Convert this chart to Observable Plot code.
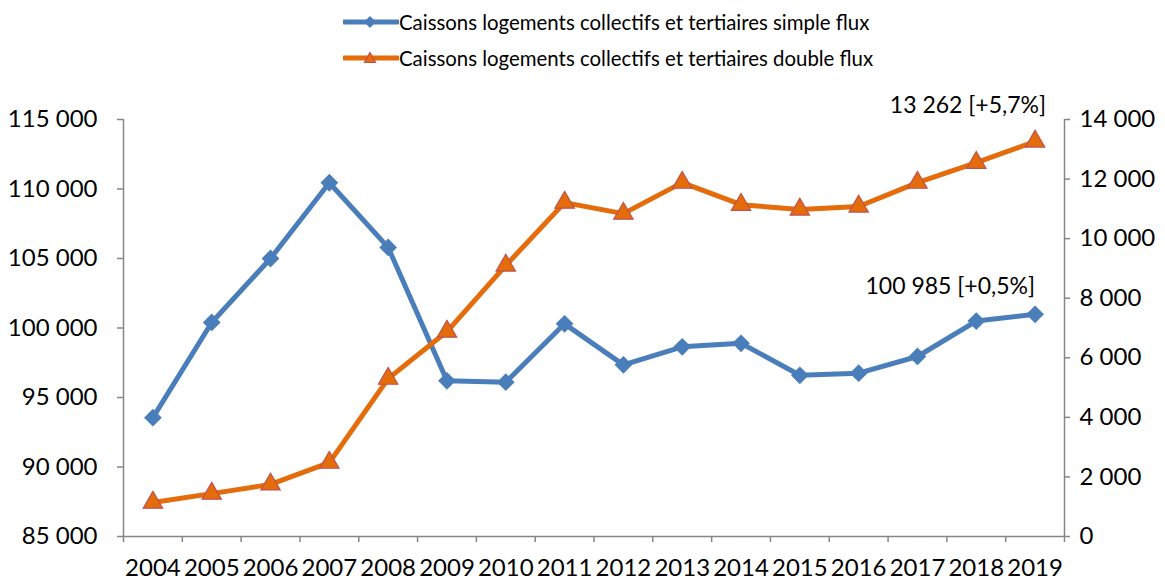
<!DOCTYPE html>
<html>
<head>
<meta charset="utf-8">
<script src="https://cdn.jsdelivr.net/npm/d3@7"></script>
<script src="https://cdn.jsdelivr.net/npm/@observablehq/plot@0.6"></script>
<style>
  html, body { margin: 0; padding: 0; background: #fff; }
  body { width: 1165px; height: 579px; overflow: hidden; font-family: Lato, "Open Sans", sans-serif; }
  #legend { position: relative; height: 80px; }
  .row { position: absolute; left: 343px; display: flex; align-items: center; font-size: 20.4px; color: #000; white-space: nowrap; }
  .row svg { display: block; margin-right: 0px; }
</style>
</head>
<body>
<div id="legend"></div>
<div id="chart"></div>
<script>
// ---- data ----
const years = [2004, 2005, 2006, 2007, 2008, 2009, 2010, 2011, 2012, 2013, 2014, 2015, 2016, 2017, 2018, 2019];
const simpleFlux = [93550, 100400, 105000, 110450, 105800, 96200, 96100, 100300, 97350, 98650, 98900, 96600, 96750, 97950, 100500, 100985];
const doubleFlux = [1140, 1440, 1750, 2480, 5300, 6880, 9100, 11210, 10840, 11880, 11140, 10980, 11080, 11880, 12550, 13262];
const seriesNames = ["Caissons logements collectifs et tertiaires simple flux", "Caissons logements collectifs et tertiaires double flux"];
const leftTicks = [85000, 90000, 95000, 100000, 105000, 110000, 115000];
const rightTicks = [0, 2000, 4000, 6000, 8000, 10000, 12000, 14000];
const endLabels = ["100 985 [+0,5%]", "13 262 [+5,7%]"];

// ---- styles ----
const blue = "#4A7EBB", orange = "#E46C0A", triStroke = "#C0504D", axisGray = "#868686";

// dual axis mapping: right [0,14000] -> left [85000,115000]
const L0 = 85000, L1 = 115000, R0 = 0, R1 = 14000;
const toLeft = v => L0 + (v - R0) * (L1 - L0) / (R1 - R0);
const toRight = v => R0 + (v - L0) * (R1 - R0) / (L1 - L0);
const fmt = v => d3.format(",")(Math.round(v)).replace(/,/g, " ");

const data = years.map((yr, i) => ({year: yr, simple: simpleFlux[i], dbl: toLeft(doubleFlux[i])}));
const boundaries = [years[0] - 0.5, ...years.map(y => y + 0.5)];

// ---- legend ----
const legend = document.getElementById("legend");
[[blue, "diamond", 22], [orange, "triangle", 58]].forEach(([c, sym, cy], i) => {
  const row = document.createElement("div");
  row.className = "row";
  row.style.top = (cy - 12) + "px";
  row.style.height = "24px";
  const marker = sym === "diamond"
    ? `<path d="M27,6 L33,12 L27,18 L21,12 Z" fill="${blue}"/>`
    : `<path d="M27,6.5 L32.5,16.5 L21.5,16.5 Z" fill="${orange}" stroke="${triStroke}" stroke-width="1.2"/>`;
  row.innerHTML = `<svg width="56" height="24"><line x1="1" x2="55" y1="12" y2="12" stroke="${c}" stroke-width="5" stroke-linecap="round"/>${marker}</svg><span>${seriesNames[i]}</span>`;
  legend.appendChild(row);
});

// ---- chart ----
const chart = Plot.plot({
  width: 1165,
  height: 499,
  marginTop: 39,
  marginBottom: 43,
  marginLeft: 123,
  marginRight: 101,
  style: {fontFamily: "Lato, 'Open Sans', sans-serif", fontSize: "24px", background: "#fff", color: "#000", overflow: "visible"},
  x: {type: "linear", domain: [years[0] - 0.5, years[years.length - 1] + 0.5]},
  y: {domain: [L0, L1]},
  marks: [
    // axis lines
    Plot.ruleX([years[0] - 0.5], {stroke: axisGray, strokeWidth: 1.5}),
    Plot.ruleX([years[years.length - 1] + 0.5], {stroke: axisGray, strokeWidth: 1.5}),
    Plot.ruleY([L0], {stroke: axisGray, strokeWidth: 1.5}),
    // left axis
    Plot.axisY({ticks: leftTicks, tickFormat: fmt, tickSize: 6, tickPadding: 20, stroke: axisGray, fill: "#000", strokeWidth: 1.5, label: null}),
    // right axis
    Plot.axisY({anchor: "right", ticks: rightTicks.map(toLeft), tickFormat: d => fmt(toRight(d)), tickSize: 5, tickPadding: 10, stroke: axisGray, fill: "#000", strokeWidth: 1.5, label: null}),
    // x tick marks at category boundaries
    Plot.axisX({ticks: boundaries, tickFormat: () => "", tickSize: 6, stroke: axisGray, strokeWidth: 1.5, label: null}),
    // x labels at category centres
    Plot.axisX({ticks: years, tickFormat: d => String(d), tickSize: 0, tickPadding: 22, fill: "#000", label: null}),
    // series
    Plot.line(data, {x: "year", y: "simple", stroke: blue, strokeWidth: 5, strokeLinejoin: "round", strokeLinecap: "round"}),
    Plot.dot(data, {x: "year", y: "simple", symbol: "diamond2", r: 8, fill: blue, stroke: "none"}),
    Plot.line(data, {x: "year", y: "dbl", stroke: orange, strokeWidth: 5, strokeLinejoin: "round", strokeLinecap: "round"}),
    Plot.dot(data, {x: "year", y: "dbl", symbol: "triangle", r: 7.2, fill: orange, stroke: triStroke, strokeWidth: 1.2}),
    // end labels
    Plot.text([data[data.length - 1]], {x: "year", y: "simple", text: () => endLabels[0], textAnchor: "end", dx: 0, dy: -28, fontSize: 23, fill: "#000"}),
    Plot.text([data[data.length - 1]], {x: "year", y: "dbl", text: () => endLabels[1], textAnchor: "end", dx: 11, dy: -36, fontSize: 23, fill: "#000"})
  ]
});
document.getElementById("chart").appendChild(chart);
</script>
</body>
</html>
